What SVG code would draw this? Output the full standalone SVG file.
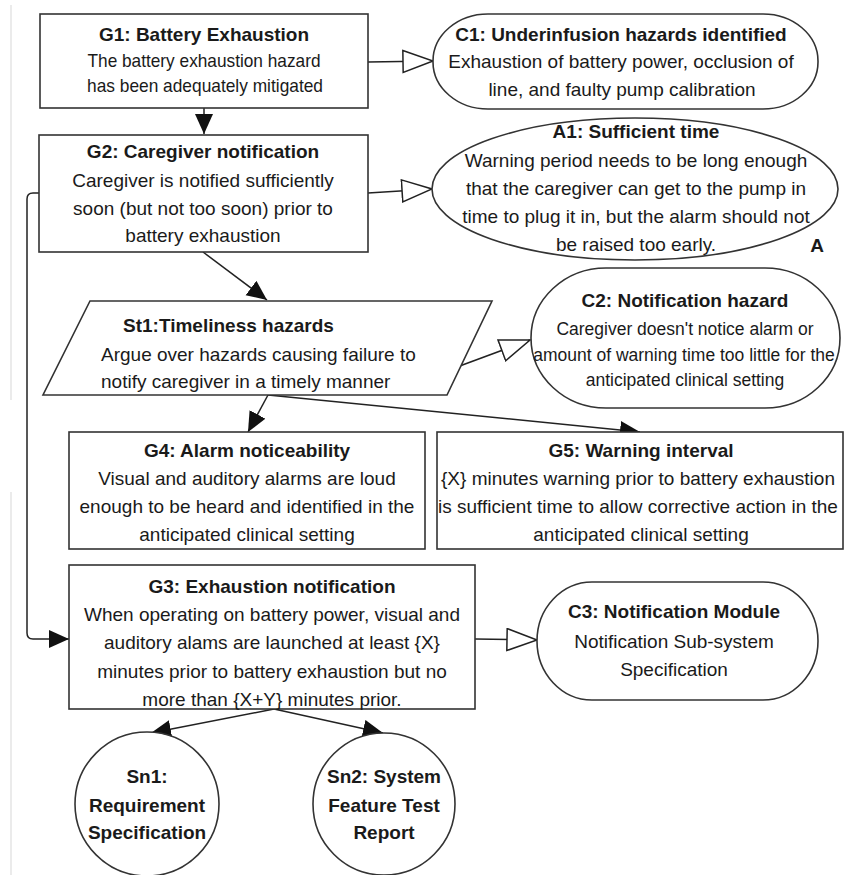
<svg xmlns="http://www.w3.org/2000/svg" width="845" height="875" viewBox="0 0 845 875">
  <style>
    .box { fill: #fff; stroke: #333; stroke-width: 1.6; }
    .edge { fill: none; stroke: #222; stroke-width: 1.5; }
    text { font-family: "Liberation Sans", Arial, sans-serif; font-size: 19px; fill: #1a1a1a; text-anchor: middle; }
    .t { font-weight: bold; }
    .small { font-size: 17.5px; }
    .left { text-anchor: start; }
  </style>
  <defs>
    <!-- solid arrowhead: "supported by" -->
    <marker id="solid" markerUnits="userSpaceOnUse" markerWidth="22" markerHeight="20" refX="20" refY="9" orient="auto">
      <path d="M0,0 L20,9 L0,18 z" fill="#111"/>
    </marker>
    <!-- hollow arrowhead: "in context of" -->
    <marker id="hollow" markerUnits="userSpaceOnUse" markerWidth="34" markerHeight="26" refX="31" refY="12" orient="auto">
      <path d="M1,1 L31,12 L1,23 z" fill="#fff" stroke="#222" stroke-width="1.5"/>
    </marker>
  </defs>

  <rect width="845" height="875" fill="#fff"/>
  <!-- page margin rule -->
  <g stroke="#e4e4e4" stroke-width="1.5">
    <line x1="11" y1="5" x2="11" y2="400"/>
    <line x1="11" y1="492" x2="11" y2="875"/>
  </g>

  <g id="connectors">
    <line class="edge" x1="204" y1="108" x2="204" y2="134" marker-end="url(#solid)"/>
    <line class="edge" x1="368" y1="62" x2="433" y2="61" marker-end="url(#hollow)"/>
    <line class="edge" x1="368" y1="193" x2="432" y2="189" marker-end="url(#hollow)"/>
    <line class="edge" x1="203" y1="252" x2="267" y2="300" marker-end="url(#solid)"/>
    <path class="edge" d="M39,193 L33,193 Q27,193 27,199 L27,633 Q27,639 33,639 L69,639" marker-end="url(#solid)"/>
    <line class="edge" x1="457" y1="367" x2="530" y2="340" marker-end="url(#hollow)"/>
    <line class="edge" x1="268" y1="395" x2="248" y2="432" marker-end="url(#solid)"/>
    <line class="edge" x1="268" y1="395" x2="640" y2="432" marker-end="url(#solid)"/>
    <line class="edge" x1="475" y1="639" x2="537" y2="640" marker-end="url(#hollow)"/>
    <line class="edge" x1="274" y1="709" x2="151" y2="733" marker-end="url(#solid)"/>
    <line class="edge" x1="274" y1="709" x2="383" y2="733" marker-end="url(#solid)"/>
  </g>

  <g id="G1">
    <rect class="box" x="40" y="14" width="328" height="94"/>
    <text class="t" x="204" y="41">G1: Battery Exhaustion</text>
    <text x="204" y="67" textLength="233" lengthAdjust="spacingAndGlyphs">The battery exhaustion hazard</text>
    <text x="205" y="92" textLength="236" lengthAdjust="spacingAndGlyphs">has been adequately mitigated</text>
  </g>

  <g id="C1">
    <rect class="box" x="433" y="14" width="385" height="95" rx="55" ry="47"/>
    <text class="t" x="621" y="41">C1: Underinfusion hazards identified</text>
    <text x="621" y="68">Exhaustion of battery power, occlusion of</text>
    <text x="622" y="96">line, and faulty pump calibration</text>
  </g>

  <g id="G2">
    <rect class="box" x="39" y="135" width="329" height="117"/>
    <text class="t" x="203" y="158">G2: Caregiver notification</text>
    <text x="203" y="187">Caregiver is notified sufficiently</text>
    <text x="203" y="215">soon (but not too soon) prior to</text>
    <text x="203" y="242">battery exhaustion</text>
  </g>

  <g id="A1">
    <ellipse class="box" cx="635" cy="189" rx="203" ry="71"/>
    <text class="t" x="636" y="138">A1: Sufficient time</text>
    <text x="636" y="167">Warning period needs to be long enough</text>
    <text x="636" y="195">that the caregiver can get to the pump in</text>
    <text x="636" y="223">time to plug it in, but the alarm should not</text>
    <text x="636" y="251">be raised too early.</text>
    <text class="t" x="817" y="252">A</text>
  </g>

  <g id="St1">
    <polygon class="box" points="90,301 492,301 447,395 43,395"/>
    <text class="t left" x="123" y="332">St1:Timeliness hazards</text>
    <text class="left" x="101" y="361">Argue over hazards causing failure to</text>
    <text class="left" x="101" y="388">notify caregiver in a timely manner</text>
  </g>

  <g id="C2">
    <rect class="box" x="531" y="268" width="309" height="140" rx="75" ry="70"/>
    <text class="t" x="685" y="307">C2: Notification hazard</text>
    <text class="small" x="685" y="335">Caregiver doesn't notice alarm or</text>
    <text class="small" x="684" y="361">amount of warning time too little for the</text>
    <text class="small" x="685" y="386">anticipated clinical setting</text>
  </g>

  <g id="G4">
    <rect class="box" x="69" y="432" width="356" height="117"/>
    <text class="t" x="247" y="457">G4: Alarm noticeability</text>
    <text x="247" y="485">Visual and auditory alarms are loud</text>
    <text x="247" y="513">enough to be heard and identified in the</text>
    <text x="247" y="541">anticipated clinical setting</text>
  </g>

  <g id="G5">
    <rect class="box" x="437" y="432" width="406" height="117"/>
    <text class="t" x="641" y="457">G5: Warning interval</text>
    <text x="638" y="485">{X} minutes warning prior to battery exhaustion</text>
    <text x="638" y="513">is sufficient time to allow corrective action in the</text>
    <text x="641" y="541">anticipated clinical setting</text>
  </g>

  <g id="G3">
    <rect class="box" x="69" y="565" width="406" height="144"/>
    <text class="t" x="272" y="593">G3: Exhaustion notification</text>
    <text x="272" y="621">When operating on battery power, visual and</text>
    <text x="272" y="649">auditory alams are launched at least {X}</text>
    <text x="272" y="678">minutes prior to battery exhaustion but no</text>
    <text x="272" y="706">more than {X+Y} minutes prior.</text>
  </g>

  <g id="C3">
    <rect class="box" x="537" y="582" width="281" height="118" rx="55" ry="59"/>
    <text class="t" x="674" y="618">C3: Notification Module</text>
    <text x="674" y="648">Notification Sub-system</text>
    <text x="674" y="676">Specification</text>
  </g>

  <g id="Sn1">
    <circle class="box" cx="147" cy="804" r="72"/>
    <text class="t" x="147" y="783">Sn1:</text>
    <text class="t" x="147" y="812">Requirement</text>
    <text class="t" x="147" y="839">Specification</text>
  </g>

  <g id="Sn2">
    <circle class="box" cx="384" cy="804" r="71"/>
    <text class="t" x="384" y="783">Sn2: System</text>
    <text class="t" x="384" y="812">Feature Test</text>
    <text class="t" x="384" y="839">Report</text>
  </g>
</svg>
